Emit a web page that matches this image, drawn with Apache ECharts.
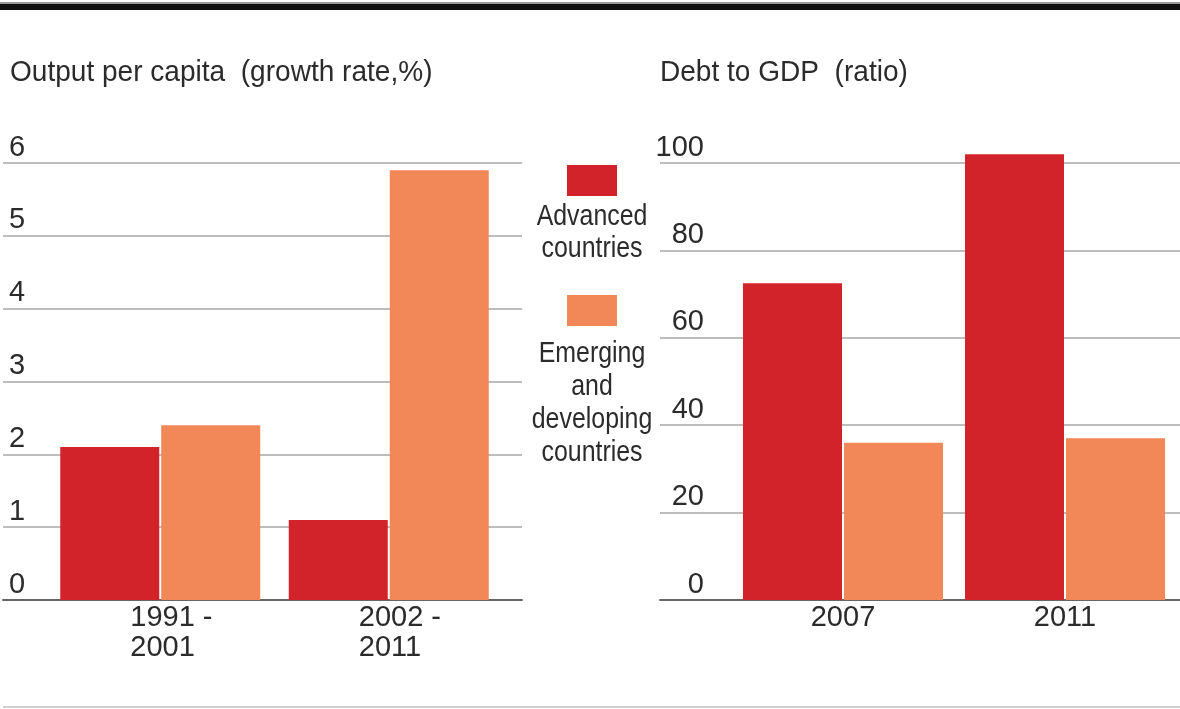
<!DOCTYPE html>
<html>
<head>
<meta charset="utf-8">
<script src="https://cdn.jsdelivr.net/npm/echarts@6/dist/echarts.min.js"></script>
<style>
  html, body { margin: 0; padding: 0; background: #ffffff; }
  #chart { width: 1180px; height: 709px; }
</style>
</head>
<body>
<div id="chart"></div>
<script>
// Series names shown in the shared legend
const seriesNames = ['Advanced countries', 'Emerging and developing countries'];

// Left panel: output per capita, growth rate (%)
const growthTitle = 'Output per capita  (growth rate,%)';
const growthPeriods = ['1991 -\n2001', '2002 -\n2011'];
const growthAdvanced = [2.1, 1.1];
const growthEmerging = [2.4, 5.9];
const growthTicks = [0, 1, 2, 3, 4, 5, 6];

// Right panel: debt to GDP (ratio)
const debtTitle = 'Debt to GDP  (ratio)';
const debtYears = ['2007', '2011'];
const debtAdvanced = [72.5, 102];
const debtEmerging = [36, 37];
const debtTicks = [0, 20, 40, 60, 80, 100];

const RED = '#d2232a';
const ORANGE = '#f28757';
const TEXT = '#2b2b2b';
const GRID = '#bdbdbd';
const FONT = '"Liberation Sans", Arial, sans-serif';

// Shared vertical geometry: value 0 sits on y = 600, top tick on y = 163
const ZERO_Y = 600, TOP_Y = 163, H = 709;
const plotBottom = H - ZERO_Y;
const debtMaxBars = 120;
const debtBarTop = ZERO_Y - (ZERO_Y - TOP_Y) * debtMaxBars / debtTicks[debtTicks.length - 1];

function ruleAxis(gridIndex) {
  return {
    type: 'value', gridIndex, min: 0, max: 1,
    axisLine: { show: true, onZero: false, lineStyle: { color: '#666666', width: 2 } },
    axisTick: { show: false }, axisLabel: { show: false }, splitLine: { show: false }
  };
}

function tickAxis(gridIndex, ticks, align, margin) {
  return {
    type: 'value', gridIndex,
    min: ticks[0], max: ticks[ticks.length - 1], interval: ticks[1] - ticks[0],
    axisLine: { show: false }, axisTick: { show: false },
    splitLine: { show: true, lineStyle: { color: GRID, width: 2 } },
    axisLabel: {
      inside: true, align, verticalAlign: 'bottom', margin,
      color: TEXT, fontFamily: FONT, fontSize: 29, padding: [0, 0, 1, 0]
    }
  };
}

function hiddenValueAxis(gridIndex, max) {
  return { type: 'value', gridIndex, min: 0, max, show: false, splitLine: { show: false } };
}

function categoryAxis(gridIndex, cats, leftBlock) {
  return {
    type: 'category', gridIndex, data: cats,
    axisLine: { show: false }, axisTick: { show: false },
    axisLabel: {
      margin: 3, color: TEXT, fontFamily: FONT, fontSize: 29, lineHeight: 30,
      formatter: leftBlock
        ? (v) => v.split('\n').map(s => '{p|' + s + '}').join('\n')
        : (v) => v,
      rich: { p: { width: 60, align: 'left', fontFamily: FONT, fontSize: 29, lineHeight: 30, color: TEXT } }
    }
  };
}

function barSeries(name, data, color, axisIndex) {
  return {
    name, type: 'bar', data, xAxisIndex: axisIndex, yAxisIndex: axisIndex,
    barWidth: 99, barGap: '2%',
    itemStyle: { color },
    emphasis: { disabled: true },
    silent: true
  };
}

// condensed text block used for titles and the legend
function label(x, y, text, size, squeeze, lineHeight, align) {
  return {
    type: 'text', x, y, scaleX: squeeze,
    style: {
      text, font: size + 'px ' + FONT, lineHeight,
      align, verticalAlign: 'top', fill: TEXT
    }
  };
}

const option = {
  animation: false,
  backgroundColor: '#ffffff',
  grid: [
    { left: 3, right: 1180 - 522, top: TOP_Y, bottom: plotBottom },      // left gridlines
    { left: 46, right: 1180 - 503, top: TOP_Y, bottom: plotBottom },     // left bars
    { left: 660, right: 0, top: TOP_Y, bottom: plotBottom },             // right gridlines
    { left: 732, right: 4, top: debtBarTop, bottom: plotBottom }         // right bars
  ],
  xAxis: [
    ruleAxis(0),
    categoryAxis(1, growthPeriods, true),
    ruleAxis(2),
    categoryAxis(3, debtYears, false)
  ],
  yAxis: [
    tickAxis(0, growthTicks, 'left', 6),
    hiddenValueAxis(1, growthTicks[growthTicks.length - 1]),
    tickAxis(2, debtTicks, 'right', 44),
    hiddenValueAxis(3, debtMaxBars)
  ],
  series: [
    barSeries(seriesNames[0], growthAdvanced, RED, 1),
    barSeries(seriesNames[1], growthEmerging, ORANGE, 1),
    barSeries(seriesNames[0], debtAdvanced, RED, 3),
    barSeries(seriesNames[1], debtEmerging, ORANGE, 3)
  ],
  graphic: [
    // heavy rule along the top, light rule along the bottom
    { type: 'rect', shape: { x: 0, y: 2, width: 1180, height: 2 }, style: { fill: '#9a9a9a' } },
    { type: 'rect', shape: { x: 0, y: 4, width: 1180, height: 6 }, style: { fill: '#111111' } },
    { type: 'rect', shape: { x: 3, y: 706, width: 1177, height: 2 }, style: { fill: '#d0d0d0' } },
    // panel titles
    label(10, 56, growthTitle, 30, 0.935, 34, 'left'),
    label(660, 56, debtTitle, 30, 0.935, 34, 'left'),
    // legend
    { type: 'rect', shape: { x: 567, y: 165, width: 50, height: 31 }, style: { fill: RED } },
    label(592, 201, 'Advanced\ncountries', 30, 0.83, 32, 'center'),
    { type: 'rect', shape: { x: 567, y: 295, width: 50, height: 31 }, style: { fill: ORANGE } },
    label(592, 337, 'Emerging\nand\ndeveloping\ncountries', 30, 0.83, 33, 'center')
  ]
};

const chart = echarts.init(document.getElementById('chart'), null, { renderer: 'canvas' });
chart.setOption(option);
</script>
</body>
</html>
